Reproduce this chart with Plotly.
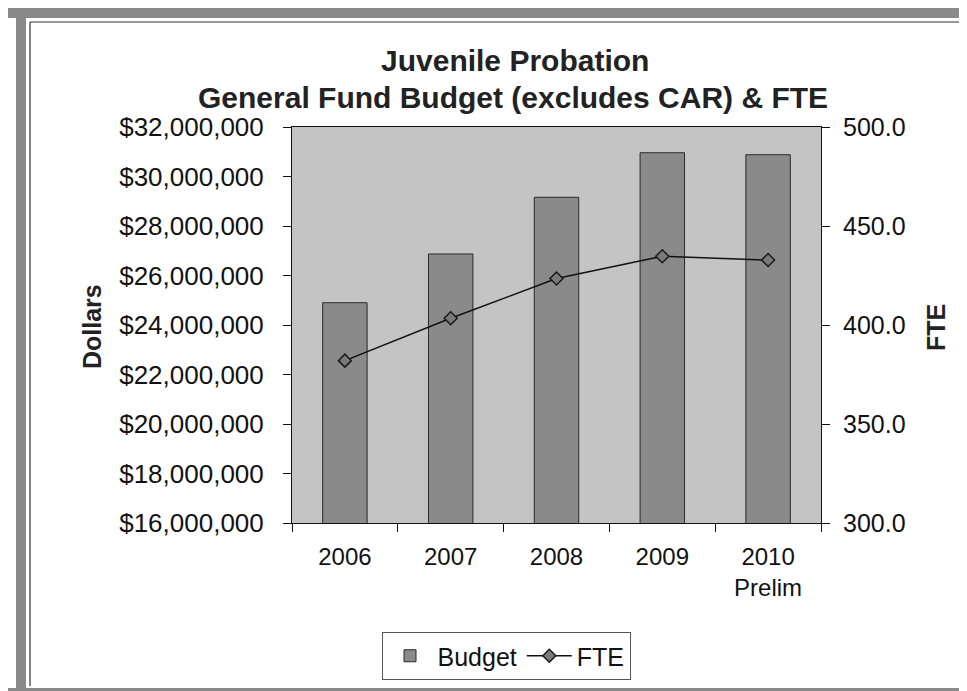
import plotly.graph_objects as go

years = ["2006", "2007", "2008", "2009", "2010<br>Prelim"]
budget = [24900000, 26870000, 29160000, 30960000, 30880000]
fte = [382.0, 403.4, 423.5, 434.7, 432.8]

W, H = 967, 691
L, R, T, B = 284, 813, 119, 515

def px(x):
    return (x - L) / (R - L)

def py(y):
    return (B - y) / (B - T)

FONT = "Liberation Sans, Arial, sans-serif"

fig = go.Figure()
fig.add_trace(go.Bar(
    x=years, y=budget, name="Budget", width=0.42,
    marker=dict(color="#8a8a8a", line=dict(color="#2a2a2a", width=1)),
    yaxis="y",
))
fig.add_trace(go.Scatter(
    x=years, y=fte, name="FTE", mode="lines+markers",
    line=dict(color="#111111", width=1.5),
    marker=dict(symbol="diamond", size=10, color="#7a7a7a",
                line=dict(color="#1a1a1a", width=1.5)),
    yaxis="y2",
))

shapes = []
band = "#8a8a8a"
shapes.append(dict(type="rect", xref="paper", yref="paper", x0=px(0), x1=px(W), y0=py(0), y1=py(10),
                   fillcolor=band, line=dict(width=0), layer="below"))
shapes.append(dict(type="rect", xref="paper", yref="paper", x0=px(8), x1=px(18), y0=py(0), y1=py(H),
                   fillcolor=band, line=dict(width=0), layer="below"))
shapes.append(dict(type="rect", xref="paper", yref="paper", x0=px(0), x1=px(W), y0=py(680), y1=py(H),
                   fillcolor=band, line=dict(width=0), layer="below"))
shapes.append(dict(type="line", xref="paper", yref="paper", x0=px(22), x1=px(W), y0=py(14), y1=py(14),
                   line=dict(color="#333333", width=1.2)))
shapes.append(dict(type="line", xref="paper", yref="paper", x0=px(22), x1=px(22), y0=py(14), y1=py(678),
                   line=dict(color="#333333", width=1.2)))

annotations = [
    dict(text="<b>Juvenile Probation</b>", x=px(507), y=py(52), xref="paper", yref="paper",
         showarrow=False, xanchor="center", yanchor="middle",
         font=dict(family=FONT, size=30, color="#222222")),
    dict(text="<b>General Fund Budget (excludes CAR) & FTE</b>", x=px(505), y=py(89), xref="paper", yref="paper",
         showarrow=False, xanchor="center", yanchor="middle",
         font=dict(family=FONT, size=30, color="#222222")),
    dict(text="<b>Dollars</b>", x=px(84), y=py(319), xref="paper", yref="paper", textangle=-90,
         showarrow=False, xanchor="center", yanchor="middle",
         font=dict(family=FONT, size=25, color="#222222")),
    dict(text="<b>FTE</b>", x=px(928), y=py(320), xref="paper", yref="paper", textangle=-90,
         showarrow=False, xanchor="center", yanchor="middle",
         font=dict(family=FONT, size=25, color="#222222")),
]

fig.update_layout(
    width=W, height=H,
    margin=dict(l=L, r=W - R, t=T, b=H - B, pad=0),
    paper_bgcolor="white",
    plot_bgcolor="#c4c4c4",
    font=dict(family=FONT, size=24, color="#111111"),
    showlegend=True,
    legend=dict(orientation="h", x=px(498), y=py(648), xanchor="center", yanchor="middle",
                bgcolor="white", bordercolor="#555555", borderwidth=1,
                font=dict(family=FONT, size=25, color="#111111"),
                itemwidth=45, tracegroupgap=0),
    xaxis=dict(type="category", showline=True, linecolor="#111111", linewidth=1, mirror=True,
               ticks="outside", tickson="boundaries", ticklen=8, tickcolor="#111111",
               showgrid=False, tickfont=dict(size=24), ticklabelstandoff=12),
    yaxis=dict(range=[16000000, 32000000], tick0=16000000, dtick=2000000,
               tickprefix="$", tickformat=",.0f", showline=True, linecolor="#111111", linewidth=1,
               ticks="outside", ticklen=8, tickcolor="#111111", showgrid=False, zeroline=False,
               tickfont=dict(size=26), ticklabelstandoff=14),
    yaxis2=dict(range=[300, 500], tick0=300, dtick=50, tickformat=".1f", overlaying="y", side="right",
                showline=True, linecolor="#111111", linewidth=1, ticks="outside", ticklen=8,
                tickcolor="#111111", showgrid=False, zeroline=False,
                tickfont=dict(size=25), ticklabelstandoff=8),
    shapes=shapes,
    annotations=annotations,
)

fig.write_html("out.html")
